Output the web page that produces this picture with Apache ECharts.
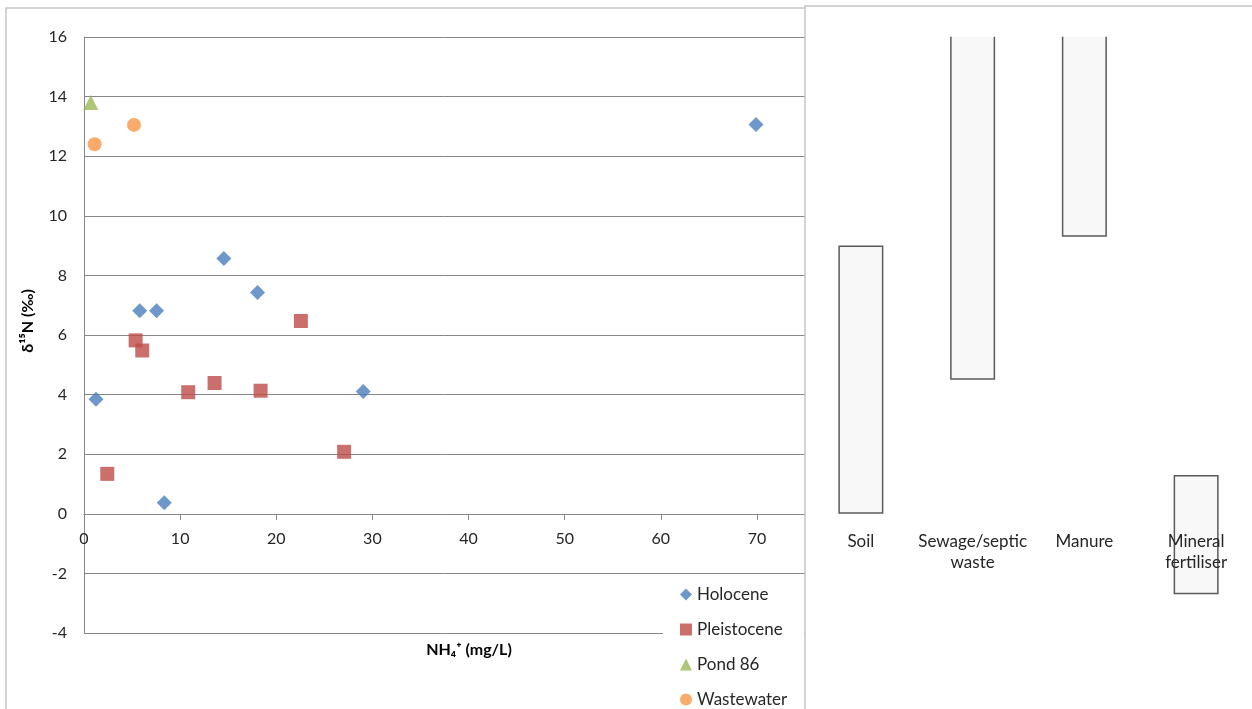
<!DOCTYPE html>
<html><head><meta charset="utf-8">
<script src="https://cdn.jsdelivr.net/npm/echarts@6/dist/echarts.min.js"></script>
<style>html,body{margin:0;padding:0;background:#fff}#c{width:1252px;height:709px}</style>
</head><body><div id="c"></div>
<script>
// ---- data ----
const holoceneNH4 = [1.25, 5.8, 7.55, 14.55, 18.05, 8.35, 29.05, 69.9];
const holoceneD15N = [3.84, 6.81, 6.81, 8.57, 7.43, 0.37, 4.1, 13.06];
const pleistoceneNH4 = [5.37, 6.06, 2.42, 10.84, 13.58, 18.37, 27.06, 22.56];
const pleistoceneD15N = [5.82, 5.48, 1.34, 4.08, 4.39, 4.13, 2.08, 6.47];
const pondNH4 = [0.7];
const pondD15N = [13.8];
const wastewaterNH4 = [1.11, 5.2];
const wastewaterD15N = [12.4, 13.05];

const sourceNames = ['Soil', 'Sewage/septic\nwaste', 'Manure', 'Mineral\nfertiliser'];
const sourceLow = [0, 4.5, 9.3, -2.7];
const sourceHigh = [9, 20, 25, 1.3];

const yTicks = {min: -4, max: 16, interval: 2};
const xTicks = {min: 0, max: 75, interval: 10};

const FONT = 'Lato, "Open Sans", sans-serif';
const GRID_COL = '#878787';
const BORDER_COL = '#c6c6c6';
const pairs = (xs, ys) => xs.map((x, i) => [x, ys[i]]);

const chart = echarts.init(document.getElementById('c'));
chart.setOption({
  backgroundColor: '#fff',
  animation: false,
  textStyle: {fontFamily: FONT},
  grid: [
    {left: 84, top: 37, right: 1252 - 805, bottom: 709 - 633, containLabel: false},
    {left: 805, top: 37 - 29.8, right: 0, bottom: 709 - 633, containLabel: false}
  ],
  xAxis: [
    {
      type: 'value', gridIndex: 0, min: xTicks.min, max: xTicks.max, interval: xTicks.interval,
      axisLine: {show: true, onZero: true, lineStyle: {color: GRID_COL, width: 1}},
      axisTick: {show: true, inside: false, length: 6, lineStyle: {color: GRID_COL}},
      axisLabel: {margin: -102, fontSize: 16, color: '#262626', fontFamily: FONT, showMaxLabel: false},
      splitLine: {show: false}
    },
    {
      type: 'category', gridIndex: 1, data: sourceNames, z: 6,
      axisLine: {show: false, onZero: true},
      axisTick: {show: false},
      axisLabel: {margin: -102, fontSize: 17, color: '#262626', fontFamily: FONT, lineHeight: 21, interval: 0}
    }
  ],
  yAxis: [
    {
      type: 'value', gridIndex: 0, min: yTicks.min, max: yTicks.max, interval: yTicks.interval,
      axisLine: {show: true, onZero: false, lineStyle: {color: GRID_COL, width: 1}},
      axisTick: {show: false},
      axisLabel: {margin: 17, fontSize: 16, color: '#262626', fontFamily: FONT},
      splitLine: {show: true, lineStyle: {color: GRID_COL, width: 1}}
    },
    {
      type: 'value', gridIndex: 1, min: yTicks.min, max: yTicks.max + 1,
      show: false, splitLine: {show: false}
    }
  ],
  legend: {
    orient: 'vertical', left: 680, top: 586, padding: 0, itemGap: 18,
    itemWidth: 12, itemHeight: 12,
    textStyle: {fontSize: 17, color: '#262626', fontFamily: FONT},
    data: [
      {name: 'Holocene', icon: 'diamond'},
      {name: 'Pleistocene', icon: 'rect'},
      {name: 'Pond 86', icon: 'triangle'},
      {name: 'Wastewater', icon: 'circle'}
    ]
  },
  graphic: [
    {type: 'rect', z: -1, silent: true, shape: {x: 6, y: 8, width: 820, height: 720},
     style: {fill: 'none', stroke: BORDER_COL, lineWidth: 1.5}},
    {type: 'rect', z: 1, silent: true, shape: {x: 805, y: 6, width: 460, height: 720},
     style: {fill: '#fff', stroke: BORDER_COL, lineWidth: 1.5}},
    {type: 'rect', z: 3, silent: true, shape: {x: 806, y: -5, width: 450, height: 41.8},
     style: {fill: '#fff'}},
    {type: 'line', z: 4, silent: true, shape: {x1: 805, y1: 6, x2: 1252, y2: 6},
     style: {stroke: BORDER_COL, lineWidth: 1.5}},
    {type: 'rect', z: 1, silent: true, shape: {x: 663, y: 576.5, width: 141, height: 140},
     style: {fill: '#fff'}},
    {type: 'text', z: 3, x: 28, y: 321, rotation: Math.PI / 2, silent: true,
     style: {text: 'δ¹⁵N (‰)', fontSize: 16, fontWeight: 'bold', fill: '#000', fontFamily: FONT,
             align: 'center', verticalAlign: 'middle'}},
    {type: 'text', z: 3, x: 469, y: 650, silent: true,
     style: {text: 'NH₄⁺ (mg/L)', fontSize: 16, fontWeight: 'bold', fill: '#000', fontFamily: FONT,
             align: 'center', verticalAlign: 'middle'}}
  ],
  series: [
    {name: 'Holocene', type: 'scatter', xAxisIndex: 0, yAxisIndex: 0, symbol: 'diamond', symbolSize: 15,
     itemStyle: {color: '#4A7EBB'}, data: pairs(holoceneNH4, holoceneD15N)},
    {name: 'Pleistocene', type: 'scatter', xAxisIndex: 0, yAxisIndex: 0, symbol: 'rect', symbolSize: 14,
     itemStyle: {color: '#BE4B48'}, data: pairs(pleistoceneNH4, pleistoceneD15N)},
    {name: 'Pond 86', type: 'scatter', xAxisIndex: 0, yAxisIndex: 0, symbol: 'triangle', symbolSize: 15,
     itemStyle: {color: '#98B954'}, data: pairs(pondNH4, pondD15N)},
    {name: 'Wastewater', type: 'scatter', xAxisIndex: 0, yAxisIndex: 0, symbol: 'circle', symbolSize: 14,
     itemStyle: {color: '#F79646'}, data: pairs(wastewaterNH4, wastewaterD15N)},
    {name: 'base', type: 'bar', xAxisIndex: 1, yAxisIndex: 1, stack: 'src', stackStrategy: 'all',
     barWidth: 45, itemStyle: {color: 'transparent'}, silent: true, data: sourceLow},
    {name: 'range', type: 'bar', xAxisIndex: 1, yAxisIndex: 1, stack: 'src', stackStrategy: 'all',
     barWidth: 45, clip: true,
     itemStyle: {color: '#f8f8f8', borderColor: '#5a5a5a', borderWidth: 1.5},
     data: sourceHigh.map((h, i) => +(h - sourceLow[i]).toFixed(2))}
  ]
});
</script></body></html>
